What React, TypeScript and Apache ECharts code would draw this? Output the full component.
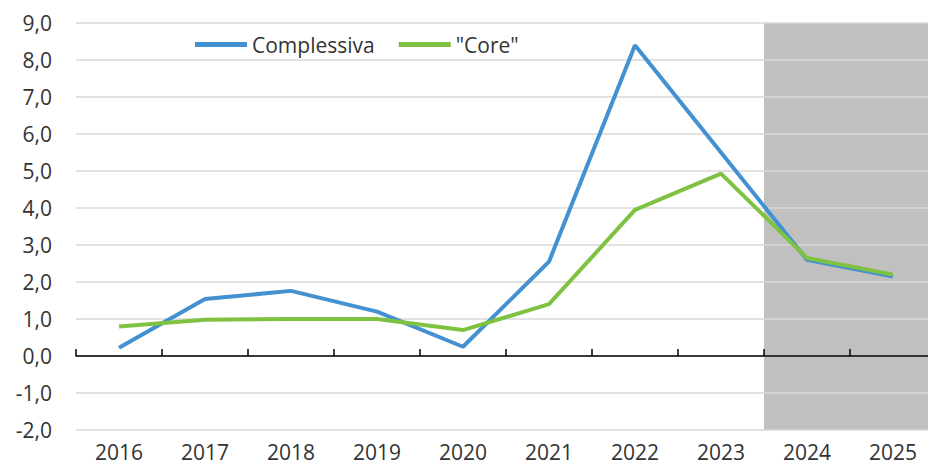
import React, { useEffect, useRef } from "react";
import * as echarts from "echarts";

const years = ["2016", "2017", "2018", "2019", "2020", "2021", "2022", "2023", "2024", "2025"];
const complessiva = [0.22, 1.54, 1.76, 1.2, 0.25, 2.55, 8.4, 5.5, 2.6, 2.15];
const core = [0.8, 0.98, 1.0, 1.0, 0.7, 1.4, 3.95, 4.93, 2.65, 2.2];
const forecastYears = ["2024", "2025"];
const yMin = -2;
const yMax = 9;

const FONT = "'Open Sans', 'Liberation Sans', sans-serif";

export default function App() {
  const ref = useRef<HTMLDivElement>(null);
  useEffect(() => {
    if (!ref.current) return;
    const chart = echarts.init(ref.current, undefined, { renderer: "svg" });
    const i0 = years.indexOf(forecastYears[0]);
    const i1 = years.indexOf(forecastYears[forecastYears.length - 1]);
    chart.setOption({
      animation: false,
      backgroundColor: "#ffffff",
      textStyle: { fontFamily: FONT },
      grid: { left: 76, top: 23, width: 860, height: 407, containLabel: false },
      legend: {
        data: ["Complessiva", '"Core"'],
        left: 195,
        top: 34,
        padding: 0,
        icon: "rect",
        itemWidth: 52,
        itemHeight: 5,
        itemGap: 24,
        textStyle: { fontFamily: FONT, fontSize: 21, color: "#333333" },
      },
      xAxis: [
        {
          type: "category",
          data: years,
          boundaryGap: true,
          z: 1,
          axisLine: { onZero: true, lineStyle: { color: "#000000", width: 1.5 } },
          axisTick: { show: true, inside: true, length: 7, lineStyle: { color: "#000000", width: 1.5 } },
          axisLabel: { show: false },
          splitLine: { show: false },
        },
        {
          type: "category",
          data: years,
          position: "bottom",
          boundaryGap: true,
          axisLine: { show: false, onZero: false },
          axisTick: { show: false },
          axisLabel: {
            show: true,
            margin: 11,
            fontSize: 21,
            lineHeight: 21,
            color: "#333333",
            fontFamily: FONT,
          },
          splitLine: { show: false },
        },
      ],
      yAxis: {
        type: "value",
        min: yMin,
        max: yMax,
        interval: 1,
        z: 1,
        axisLine: { show: false },
        axisTick: { show: false },
        axisLabel: {
          margin: 24,
          fontSize: 21,
          color: "#333333",
          fontFamily: FONT,
          formatter: (v: number) => v.toFixed(1).replace(".", ","),
        },
        splitLine: { show: true, lineStyle: { color: "#d9d9d9", width: 1.5 } },
      },
      series: [
        {
          type: "custom",
          name: "forecast",
          xAxisIndex: 0,
          z: 0,
          silent: true,
          data: [[i0, i1]],
          renderItem: (params: any, api: any) => {
            const bw = api.size([1, 0])[0];
            const a = api.coord([api.value(0), yMax]);
            const b = api.coord([api.value(1), yMin]);
            return {
              type: "rect",
              shape: { x: a[0] - bw / 2, y: a[1], width: b[0] - a[0] + bw, height: b[1] - a[1] },
              style: { fill: "#c0c0c0" },
            };
          },
        },
        {
          type: "line",
          name: "Complessiva",
          data: complessiva,
          xAxisIndex: 0,
          symbol: "none",
          z: 3,
          lineStyle: { color: "#4391d0", width: 4 },
          itemStyle: { color: "#4391d0" },
        },
        {
          type: "line",
          name: '"Core"',
          data: core,
          xAxisIndex: 0,
          symbol: "none",
          z: 4,
          lineStyle: { color: "#7fc241", width: 4 },
          itemStyle: { color: "#7fc241" },
        },
      ],
    });
    return () => chart.dispose();
  }, []);
  return (
    <div style={{ position: "fixed", left: 0, top: 0, width: 928, height: 464, overflow: "hidden", background: "#fff" }}>
      <div ref={ref} style={{ position: "absolute", left: 0, top: 0, width: 944, height: 464 }} />
    </div>
  );
}
